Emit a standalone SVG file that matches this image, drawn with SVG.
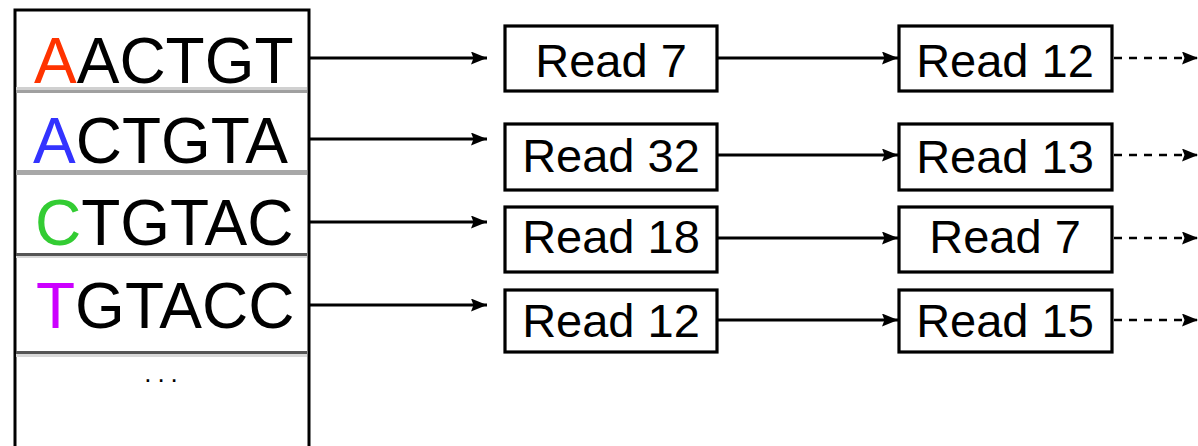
<svg xmlns="http://www.w3.org/2000/svg" width="1198" height="446" viewBox="0 0 1198 446">
  <style>
    .seq { font-family: "Liberation Sans", Arial, sans-serif; font-size: 64px; fill: #000; }
    .lbl { font-family: "Liberation Sans", Arial, sans-serif; font-size: 47px; fill: #000; text-anchor: middle; }
    .box { fill: #fff; stroke: #000; stroke-width: 3.2; }
    .link { stroke: #000; stroke-width: 3; fill: none; }
    .dash { stroke: #000; stroke-width: 2.4; fill: none; stroke-dasharray: 8 7; }
  </style>
  <defs>
    <marker id="head" viewBox="0 0 16 13" refX="16" refY="6.5" markerWidth="16" markerHeight="13" markerUnits="userSpaceOnUse" orient="auto">
      <path d="M0,0 L16,6.5 L0,13 L2.5,6.5 Z" fill="#000"/>
    </marker>
  </defs>
  <rect width="1198" height="446" fill="#fff"/>

  <!-- suffix table -->
  <g id="table">
    <path d="M15,446 V10 H309 V446" fill="none" stroke="#000" stroke-width="3"/>
    <rect x="16" y="87" width="291" height="3" fill="#d0d0d0"/>
    <rect x="16" y="90" width="291" height="3" fill="#a0a0a0"/>
    <rect x="16" y="170" width="291" height="5" fill="#a8a8a8"/>
    <rect x="16" y="253" width="291" height="3" fill="#555"/>
    <rect x="16" y="256" width="291" height="2" fill="#d8d8d8"/>
    <rect x="16" y="351" width="291" height="3" fill="#555"/>
    <rect x="16" y="354" width="291" height="3" fill="#d8d8d8"/>
    <text class="seq" x="34" y="83"><tspan fill="#ff3300">A</tspan>ACTGT</text>
    <text class="seq" x="33" y="163"><tspan fill="#3333ff">A</tspan>CTGTA</text>
    <text class="seq" x="35" y="245"><tspan fill="#33cc33">C</tspan>TGTAC</text>
    <text class="seq" x="36" y="328"><tspan fill="#cc00ff">T</tspan>GTACC</text>
    <text x="164" y="382" font-family="Liberation Sans, Arial, sans-serif" font-size="26" letter-spacing="6" text-anchor="middle" fill="#000">...</text>
  </g>

  <!-- first column of reads -->
  <g id="c1r1"><rect class="box" x="505" y="26" width="212" height="65"/><text class="lbl" x="611" y="77">Read 7</text></g>
  <g id="c1r2"><rect class="box" x="505" y="124" width="212" height="66"/><text class="lbl" x="611" y="172">Read 32</text></g>
  <g id="c1r3"><rect class="box" x="505" y="207" width="212" height="65"/><text class="lbl" x="611" y="253">Read 18</text></g>
  <g id="c1r4"><rect class="box" x="505" y="290" width="212" height="62"/><text class="lbl" x="611" y="337">Read 12</text></g>

  <!-- second column of reads -->
  <g id="c2r1"><rect class="box" x="899" y="26" width="213" height="65"/><text class="lbl" x="1005" y="77">Read 12</text></g>
  <g id="c2r2"><rect class="box" x="899" y="124" width="213" height="66"/><text class="lbl" x="1005" y="173">Read 13</text></g>
  <g id="c2r3"><rect class="box" x="899" y="207" width="213" height="65"/><text class="lbl" x="1005" y="253">Read 7</text></g>
  <g id="c2r4"><rect class="box" x="899" y="290" width="213" height="62"/><text class="lbl" x="1005" y="337">Read 15</text></g>

  <g id="connectors">
    <line class="link" x1="310" y1="58" x2="487" y2="58" marker-end="url(#head)"/>
    <line class="link" x1="310" y1="139" x2="487" y2="139" marker-end="url(#head)"/>
    <line class="link" x1="310" y1="222" x2="487" y2="222" marker-end="url(#head)"/>
    <line class="link" x1="310" y1="305" x2="487" y2="305" marker-end="url(#head)"/>

    <line class="link" x1="718" y1="58" x2="898" y2="58" marker-end="url(#head)"/>
    <line class="link" x1="718" y1="155" x2="898" y2="155" marker-end="url(#head)"/>
    <line class="link" x1="718" y1="238" x2="898" y2="238" marker-end="url(#head)"/>
    <line class="link" x1="718" y1="320" x2="898" y2="320" marker-end="url(#head)"/>

    <line class="dash" x1="1114" y1="58" x2="1198" y2="58" marker-end="url(#head)"/>
    <line class="dash" x1="1114" y1="155" x2="1198" y2="155" marker-end="url(#head)"/>
    <line class="dash" x1="1114" y1="238" x2="1198" y2="238" marker-end="url(#head)"/>
    <line class="dash" x1="1114" y1="320" x2="1198" y2="320" marker-end="url(#head)"/>
  </g>
</svg>
